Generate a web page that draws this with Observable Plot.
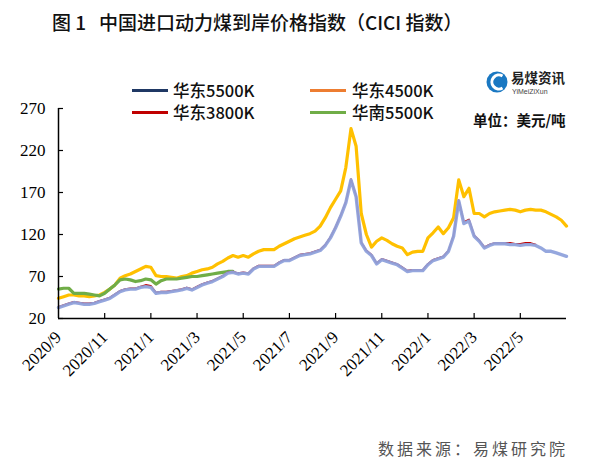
<!DOCTYPE html>
<html><head><meta charset="utf-8">
<script src="https://cdn.jsdelivr.net/npm/d3@7"></script>
<script src="https://cdn.jsdelivr.net/npm/@observablehq/plot@0.6"></script>
<style>
body{margin:0;background:#fff;}
#wrap{position:relative;width:600px;height:474px;overflow:hidden;font-family:"Noto Sans CJK SC",sans-serif;background:#fff;}
#chart{position:absolute;left:0;top:0;}
.abs{position:absolute;white-space:nowrap;}
#title{left:52px;top:8px;font-size:19px;color:#111;font-weight:500;}
.leg{font-size:16.5px;font-weight:500;color:#111;line-height:18px;height:18px;}
.sw{position:absolute;height:3px;width:36px;}
#unit{left:473px;top:111px;font-size:14.5px;font-weight:700;color:#111;line-height:18px;}
#src{left:378px;top:436px;font-size:16px;color:#555;letter-spacing:3px;}
#logo{left:486px;top:68px;}
</style></head><body><div id="wrap">
<div id="chart"></div>
<div class="abs" id="title">图 1&nbsp;&nbsp;&nbsp;中国进口动力煤到岸价格指数（CICI 指数）</div>
<div class="sw" style="left:132px;top:89px;background:#1f3864"></div>
<div class="abs leg" style="left:173px;top:81px">华东5500K</div>
<div class="sw" style="left:310px;top:89px;background:#ed7d31"></div>
<div class="abs leg" style="left:352px;top:81px">华东4500K</div>
<div class="sw" style="left:132px;top:111px;background:#c00000"></div>
<div class="abs leg" style="left:173px;top:103px">华东3800K</div>
<div class="sw" style="left:310px;top:111px;background:#70ad47"></div>
<div class="abs leg" style="left:352px;top:103px">华南5500K</div>
<div class="abs" id="logo">
<svg width="90" height="32" viewBox="0 0 90 32">
<circle cx="11" cy="14" r="10.5" fill="#1a78c2"/>
<path d="M16.5,8 A7,7 0 1 0 16.5,20" fill="none" stroke="#fff" stroke-width="3"/>
<text x="25" y="15" font-size="13.5" font-weight="700" fill="#222" font-family="Noto Sans CJK SC">易煤资讯</text>
<text x="26" y="26" font-size="7" fill="#444" font-family="Liberation Sans">YiMeiZiXun</text>
</svg></div>
<div class="abs" id="unit">单位：美元/吨</div>
<div class="abs" id="src">数据来源：易煤研究院</div>
</div>
<script>
// weekly index 0..99
const xLabels = ["2020/9","2020/11","2021/1","2021/3","2021/5","2021/7","2021/9","2021/11","2022/1","2022/3","2022/5"];
const xLabelPos = [0,9,18,27,36,45,54,63,72,81,90];
const xTickPos = [9,18,27,36,45,54,63,72,81,90];
const yTicks = [20,70,120,170,220,270];

const east5500 = [33,35,37,39,38,37,37,38,40,42,44,48,52,54,55,55,57,58,57,50,51,51,52,53,54,56,54,57,60,62,64,67,70,74,75,73,74,73,79,82,82,82,82,86,89,89,92,95,96,97,99,101,107,116,128,142,158,185,165,110,100,95,85,90,88,86,84,80,76,77,77,77,84,89,91,93,100,118,160,133,136,118,112,104,107,109,109,109,108,108,107,108,108,107,104,100,100,98,96,94];
const east4500 = [44,46,48,48,47,47,46,47,48,51,55,60,68,71,73,76,79,82,81,71,70,70,69,68,70,71,74,76,78,79,81,85,88,92,95,93,95,93,97,100,102,102,102,106,109,112,115,117,119,121,124,130,140,152,162,172,200,246,225,145,120,105,112,116,113,109,106,104,96,99,100,100,116,122,129,121,128,140,185,165,175,145,145,141,145,147,148,149,150,149,147,149,150,149,149,147,144,141,137,130];
const east3800 = [34,36,38,40,39,38,38,39,41,43,45,49,53,55,56,56,58,60,59,51,52,52,53,54,55,57,55,58,61,63,65,68,71,75,76,74,75,74,80,83,83,83,83,87,90,90,93,96,97,98,100,102,108,117,129,143,159,186,166,111,101,96,86,91,89,87,85,81,77,78,78,78,85,90,92,94,101,119,161,135,138,119,113,105,108,110,110,110,110,109,109,110,110,108];
const south5500 = [55,56,56,50,50,50,49,48,47,50,55,60,66,67,66,64,65,67,66,61,65,67,67,67,68,69,70,70,71,72,73,74,75,76,76];

const toRows = arr => arr.map((v,i)=>({i, v}));

const chart = Plot.plot({
  width: 600, height: 474,
  marginLeft: 58, marginRight: 34, marginTop: 108, marginBottom: 156,
  x: {domain: [0, 99], label: null},
  y: {domain: [20, 270], label: null},
  style: {fontFamily: "Liberation Serif", fontSize: "17px", color: "#000", background: "transparent"},
  marks: [
    Plot.axisY(yTicks, {tickSize: 0, tickPadding: 13, fontSize: 17, fill: "#000"}),
    Plot.axisX(xLabelPos, {tickSize: 0, tickPadding: 16, tickRotate: -45, fontSize: 17, fill: "#000",
      tickFormat: d => xLabels[xLabelPos.indexOf(d)]}),
    Plot.tickY(yTicks, {y: d => d, insetRight: 503, stroke: "#000", strokeWidth: 1.2}),
    Plot.tickX(xTickPos, {x: d => d, insetTop: 205, stroke: "#000", strokeWidth: 1.2}),
    Plot.line(toRows(east4500), {x: "i", y: "v", stroke: "#ffc000", strokeWidth: 3.2}),
    Plot.line(toRows(south5500), {x: "i", y: "v", stroke: "#70ad47", strokeWidth: 3.2}),
    Plot.line(toRows(east3800), {x: "i", y: "v", stroke: "#c00000", strokeWidth: 1.6}),
    Plot.line(toRows(east5500), {x: "i", y: "v", stroke: "#8fa2dc", strokeWidth: 3.4, strokeOpacity: 0.95}),
    Plot.ruleX([0], {stroke: "#000", strokeWidth: 1.5}),
    Plot.ruleY([20], {stroke: "#000", strokeWidth: 1.5})
  ]
});
document.getElementById("chart").appendChild(chart);
</script>
</body></html>
